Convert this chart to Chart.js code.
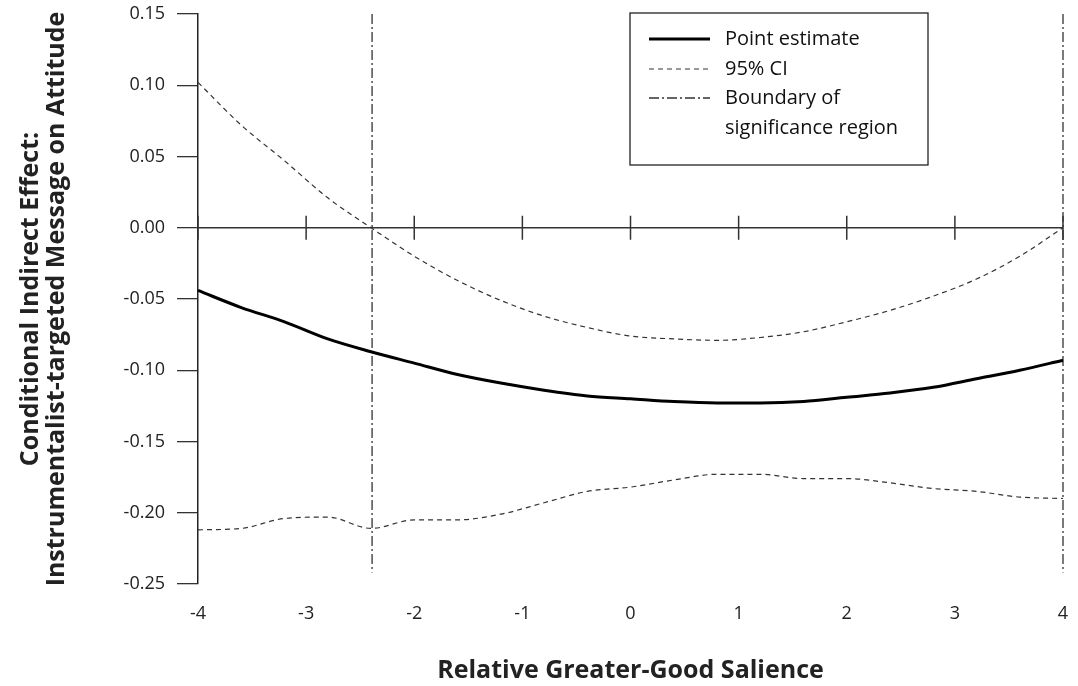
<!DOCTYPE html>
<html>
<head>
<meta charset="utf-8">
<script src="https://cdn.jsdelivr.net/npm/chart.js@4"></script>
<style>
    html, body { margin: 0; padding: 0; background: #fff; }
    #wrap { width: 1078px; height: 686px; position: relative; }
</style>
</head>
<body>
<div id="wrap"><canvas id="jnChart"></canvas></div>
<script>
// Valores del moderador (Relative Greater-Good Salience)
var salience = [-4.0, -3.6, -3.2, -2.8, -2.4, -2.0, -1.6, -1.2, -0.8, -0.4, 0.0,
                0.4, 0.8, 1.2, 1.6, 2.0, 2.4, 2.8, 3.2, 3.6, 4.0];

// Efecto indirecto condicional (estimacion puntual)
var pointEstimate = [-0.044, -0.056, -0.066, -0.078, -0.087, -0.095, -0.103, -0.109, -0.114, -0.118, -0.120,
                     -0.122, -0.123, -0.123, -0.122, -0.119, -0.116, -0.112, -0.106, -0.100, -0.093];

// Intervalo de confianza 95%
var ciUpper = [0.102, 0.072, 0.047, 0.021, 0.000, -0.020, -0.037, -0.051, -0.062, -0.070, -0.076,
               -0.078, -0.079, -0.077, -0.073, -0.066, -0.058, -0.048, -0.036, -0.020, 0.000];
var ciLower = [-0.212, -0.211, -0.204, -0.203, -0.211, -0.205, -0.205, -0.201, -0.193, -0.185, -0.182,
               -0.177, -0.173, -0.173, -0.176, -0.176, -0.179, -0.183, -0.185, -0.189, -0.190];

// Limites de la region de significancia
var boundaries = [-2.39, 4.0];
var boundarySpan = [0.15, -0.242];

// Ejes
var xMin = -4, xMax = 4, xStep = 1;
var yMin = -0.25, yMax = 0.15, yStep = 0.05;

var legendLabels = ['Point estimate', '95% CI', ['Boundary of', 'significance region']];

function toPoints(xs, ys) {
    return xs.map(function (x, i) { return { x: x, y: ys[i] }; });
}

var ciStyle = { borderColor: '#333', borderWidth: 1.2, borderDash: [5, 4] };
var boundaryStyle = { borderColor: '#333', borderWidth: 1.3, borderDash: [10, 3, 2, 3] };

var datasets = [
    { label: legendLabels[0], data: toPoints(salience, pointEstimate), borderColor: '#000', borderWidth: 3 },
    Object.assign({ label: legendLabels[1], data: toPoints(salience, ciUpper) }, ciStyle),
    Object.assign({ label: legendLabels[1], data: toPoints(salience, ciLower) }, ciStyle)
];
boundaries.forEach(function (b) {
    datasets.push(Object.assign({
        label: 'Boundary',
        data: boundarySpan.map(function (y) { return { x: b, y: y }; }),
        cubicInterpolationMode: 'default',
        tension: 0
    }, boundaryStyle));
});
datasets.forEach(function (d) {
    d.showLine = true;
    d.pointRadius = 0;
    d.fill = false;
    d.clip = false;
    if (!d.cubicInterpolationMode) d.cubicInterpolationMode = 'monotone';
});

// Eje horizontal en y = 0 con marcas que cruzan la linea
var zeroAxis = {
    id: 'zeroAxis',
    beforeDatasetsDraw: function (chart) {
        var ctx = chart.ctx, xs = chart.scales.x, ys = chart.scales.y;
        var y0 = ys.getPixelForValue(0);
        ctx.save();
        ctx.strokeStyle = '#333';
        ctx.lineWidth = 1.5;
        ctx.beginPath();
        ctx.moveTo(chart.chartArea.left, y0);
        ctx.lineTo(chart.chartArea.right, y0);
        xs.ticks.forEach(function (t) {
            var px = xs.getPixelForValue(t.value);
            ctx.moveTo(px, y0 - 12);
            ctx.lineTo(px, y0 + 12);
        });
        ctx.stroke();
        ctx.restore();
    }
};

// Leyenda con recuadro
var boxLegend = {
    id: 'boxLegend',
    afterDatasetsDraw: function (chart) {
        var ctx = chart.ctx, ca = chart.chartArea;
        var bx = ca.left + 432, by = ca.top - 1, bw = 298, bh = 152;
        ctx.save();
        ctx.fillStyle = '#fff';
        ctx.fillRect(bx, by, bw, bh);
        ctx.strokeStyle = '#222';
        ctx.lineWidth = 1.3;
        ctx.strokeRect(bx, by, bw, bh);
        var styles = [datasets[0], datasets[1], datasets[3]];
        var rowY = [by + 26, by + 56, by + 85];
        ctx.font = '20px "Open Sans"';
        ctx.textBaseline = 'middle';
        styles.forEach(function (s, i) {
            ctx.beginPath();
            ctx.strokeStyle = s.borderColor;
            ctx.lineWidth = s.borderWidth;
            ctx.setLineDash(s.borderDash || []);
            ctx.moveTo(bx + 19, rowY[i]);
            ctx.lineTo(bx + 80, rowY[i]);
            ctx.stroke();
            ctx.setLineDash([]);
            ctx.fillStyle = '#111';
            var lbl = legendLabels[i];
            if (Array.isArray(lbl)) {
                lbl.forEach(function (line, j) { ctx.fillText(line, bx + 95, rowY[i] + j * 30); });
            } else {
                ctx.fillText(lbl, bx + 95, rowY[i]);
            }
        });
        ctx.restore();
    }
};

Chart.defaults.font.family = '"Open Sans"';
Chart.defaults.color = '#222';

var ctx = document.getElementById('jnChart').getContext('2d');
var jnChart = new Chart(ctx, {
    type: 'scatter',
    data: { datasets: datasets },
    options: {
        responsive: true,
        maintainAspectRatio: false,
        animation: false,
        layout: { padding: { top: 14, right: 15, bottom: 0, left: 0 } },
        plugins: { legend: { display: false }, tooltip: { enabled: false } },
        scales: {
            x: {
                type: 'linear',
                min: xMin, max: xMax,
                grid: { display: false, drawTicks: false },
                border: { display: false },
                ticks: {
                    stepSize: xStep,
                    padding: 19,
                    font: { size: 18 },
                    color: '#222',
                    callback: function (v) { return String(v); }
                },
                title: {
                    display: true,
                    text: 'Relative Greater-Good Salience',
                    font: { size: 25, weight: 'bold' },
                    color: '#222',
                    padding: { top: 0, bottom: 0 }
                },
                afterFit: function (scale) {
                    scale.height = 102;
                    scale.paddingLeft = 0;
                    scale.paddingRight = 0;
                }
            },
            y: {
                min: yMin, max: yMax,
                grid: { drawOnChartArea: false, drawTicks: true, tickLength: 21, color: '#333', lineWidth: 1.3 },
                border: { display: true, color: '#222', width: 1.5 },
                ticks: {
                    stepSize: yStep,
                    padding: 12,
                    font: { size: 18 },
                    color: '#222',
                    callback: function (v) { return Math.abs(v) < 1e-9 ? '0.00' : v.toFixed(2); }
                },
                title: {
                    display: true,
                    text: ['Conditional Indirect Effect:', 'Instrumentalist-targeted Message on Attitude'],
                    font: { size: 25, weight: 'bold', lineHeight: 1.04 },
                    color: '#222',
                    padding: { top: 18, bottom: 0 }
                },
                afterFit: function (scale) {
                    scale.width = 198;
                    scale.paddingTop = 0;
                    scale.paddingBottom = 0;
                }
            }
        }
    },
    plugins: [zeroAxis, boxLegend]
});
</script>
</body>
</html>
